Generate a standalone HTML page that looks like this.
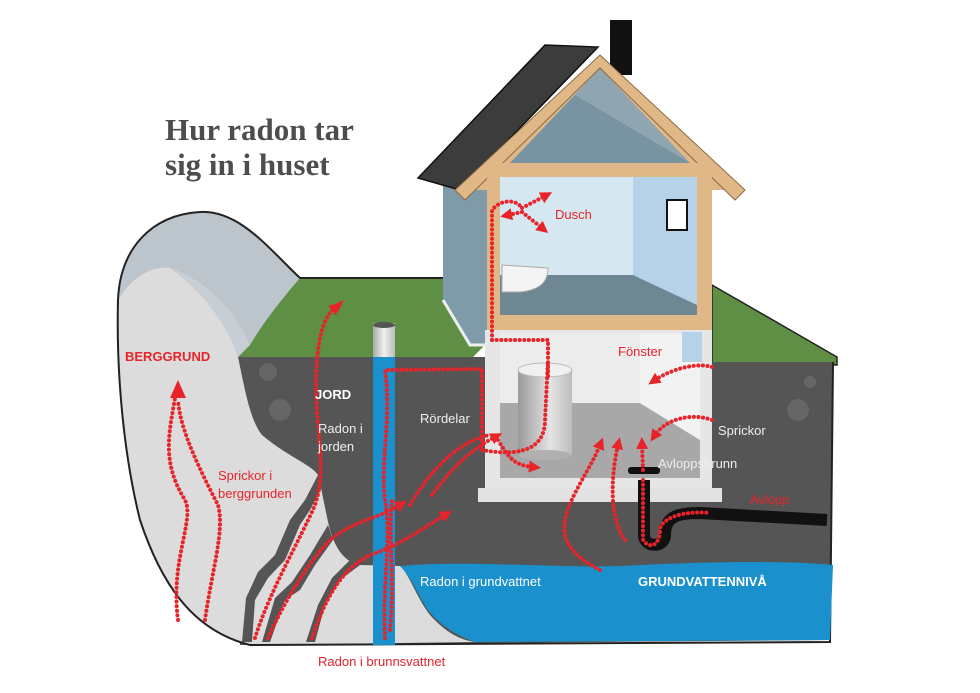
<!DOCTYPE html>
<html><head><meta charset="utf-8"><style>
html,body{margin:0;padding:0;background:#fff;width:980px;height:693px;overflow:hidden}
svg{display:block}
.t{font-family:"Liberation Sans",sans-serif;font-size:13px}
</style></head><body>
<svg width="980" height="693" viewBox="0 0 980 693" xmlns="http://www.w3.org/2000/svg">
<defs>
<marker id="ah" markerWidth="12" markerHeight="12" refX="4" refY="6" orient="auto" markerUnits="userSpaceOnUse"><path d="M0,0 L12,6 L0,12 z" fill="#e8232a"/></marker>
<linearGradient id="cyl" x1="0" x2="1"><stop offset="0" stop-color="#9a9a9a"/><stop offset="0.6" stop-color="#e4e4e4"/><stop offset="1" stop-color="#bdbdbd"/></linearGradient>
<linearGradient id="pipe" x1="0" x2="1"><stop offset="0" stop-color="#a9a9a9"/><stop offset=".5" stop-color="#f0f0f0"/><stop offset="1" stop-color="#bbb"/></linearGradient>
</defs>

<text x="165" y="140" font-family="Liberation Serif,serif" font-weight="bold" font-size="31" fill="#4d4d4d">Hur radon tar</text>
<text x="165" y="175" font-family="Liberation Serif,serif" font-weight="bold" font-size="31" fill="#4d4d4d">sig in i huset</text>

<path d="M230,278 L445,278 L485,345 L470,360 L235,360 Z" fill="#5f8f45"/>
<path d="M712,285 L837,357 L837,365 L712,365 Z" fill="#5f8f45" stroke="#222" stroke-width="1.5"/>
<path d="M235,357 L485,357 L485,500 L712,500 L712,362 L833,362 L830,640 L240,645 Z" fill="#555"/>
<circle cx="268" cy="372" r="9" fill="#666"/><circle cx="280" cy="410" r="11" fill="#666"/><circle cx="798" cy="410" r="11" fill="#666"/><circle cx="810" cy="382" r="6" fill="#666"/>

<path d="M118,300 C120,250 150,215 200,212 C240,210 270,250 300,278 C280,300 255,330 238,357 C245,390 250,420 262,435 C285,455 312,465 318,475 C322,490 325,510 330,530 C336,550 345,562 360,565 L400,566 C410,575 415,595 430,615 C445,632 460,640 475,642 L250,645 C190,630 160,580 140,520 C125,460 116,380 118,300 Z" fill="#dcdcdc"/>
<path d="M118,300 C120,250 150,215 200,212 C240,210 270,250 300,278 C285,295 265,320 250,345 C235,310 205,280 170,268 C150,265 130,280 118,300 Z" fill="#bcc5cb"/>
<path d="M170,268 C205,280 235,310 250,345 L238,357 C225,320 200,290 170,268 Z" fill="#c8cfd4"/>
<path d="M318,475 L322,487 L310,510 L300,525 L285,560 L268,578 L255,600 L252,642 L242,642 L246,598 L258,572 L275,555 L290,520 L305,500 Z" fill="#555"/>
<path d="M328,525 L333,540 L315,565 L300,590 L285,600 L270,642 L262,642 L275,598 L292,582 L310,555 Z" fill="#555"/>
<path d="M350,560 L360,565 L340,580 L325,605 L315,642 L306,642 L318,605 L332,578 Z" fill="#555"/>
<path d="M118,300 C120,250 150,215 200,212 C240,210 270,250 300,278 L445,278" fill="none" stroke="#222" stroke-width="2"/>
<path d="M118,300 C116,380 125,460 140,520 C160,580 190,630 250,645 L830,642 L833,362" fill="none" stroke="#222" stroke-width="2"/>

<path d="M400,566 C460,560 560,568 620,566 C700,562 780,560 833,565 L830,640 L475,642 C455,635 440,625 428,610 C418,595 410,575 400,566 Z" fill="#1a90cc"/>

<rect x="373" y="355" width="22" height="290" fill="#1a90cc"/>
<rect x="373" y="323" width="22" height="34" fill="url(#pipe)"/>
<ellipse cx="384" cy="325" rx="11" ry="3" fill="#555"/>

<path d="M443,185 L487,185 L487,345 L470,345 L443,300 Z" fill="#7f9aa8"/>
<path d="M443,300 L470,345 L485,345" fill="none" stroke="#eee" stroke-width="3"/>
<path d="M418,178 L545,45 L598,47 L460,190 Z" fill="#3c3c3c" stroke="#111" stroke-width="1.5"/>
<rect x="610" y="20" width="22" height="55" fill="#111"/>
<path d="M600,55 L735,190 L465,190 Z" fill="#e0b888"/>
<path d="M600,68 L690,163 L510,163 Z" fill="#8fa5b0"/>
<path d="M575,95 L690,163 L510,163 Z" fill="#7894a2"/>
<path d="M600,55 L745,190 L735,200 L600,68 L465,200 L455,190 Z" fill="#e0b888" stroke="#8a6a40" stroke-width="1"/>
<rect x="487" y="163" width="225" height="170" fill="#e0b888"/>
<rect x="500" y="177" width="197" height="138" fill="#d5e8f2"/>
<path d="M633,177 L697,177 L697,315 L633,275 Z" fill="#b5d2e8"/>
<path d="M500,275 L633,275 L697,305 L697,315 L500,315 Z" fill="#6f8793"/>
<rect x="667" y="200" width="20" height="30" fill="#fff" stroke="#111" stroke-width="2"/>
<path d="M502,265 L548,268 C548,282 540,290 520,292 L502,292 Z" fill="#f4f4f4" stroke="#aaa"/>
<rect x="485" y="330" width="227" height="160" fill="#e6e6e6"/>
<rect x="500" y="333" width="200" height="145" fill="#ececec"/>
<path d="M500,403 L640,403 L700,440 L700,478 L500,478 Z" fill="#a8a8a8"/>
<path d="M640,335 L700,335 L700,440 L640,403 Z" fill="#f2f2f2"/>
<rect x="478" y="488" width="244" height="14" fill="#e2e2e2"/>
<rect x="682" y="332" width="20" height="30" fill="#b5d2e8"/>
<rect x="518" y="370" width="54" height="85" fill="url(#cyl)"/>
<ellipse cx="545" cy="370" rx="27" ry="7" fill="#f0f0f0" stroke="#bbb"/>
<ellipse cx="545" cy="455" rx="27" ry="5" fill="#b0b0b0"/>

<path d="M644,480 L644,535 C644,548 665,548 665,535 C665,515 680,513 700,513 L827,520" fill="none" stroke="#111" stroke-width="12"/>
<rect x="628" y="467" width="32" height="7" rx="3" fill="#111"/>

<g fill="none" stroke="#e8232a" stroke-width="4" stroke-dasharray="0.1 4.5" stroke-linecap="round" marker-end="url(#ah)">
<path d="M178,620 C170,560 195,520 185,500 C160,460 170,430 176,392" marker-end="none"/>
<path d="M205,620 C212,570 225,530 218,505 C200,470 180,430 178,400" marker-end="none"/>
<path d="M255,638 C270,590 300,540 315,505 C330,460 310,420 318,350 C322,320 330,312 335,308"/>
<path d="M268,638 C285,600 310,560 330,540 C355,520 375,520 400,505"/>
<path d="M312,638 C325,600 340,570 370,555 C400,545 420,530 445,515"/>
<path d="M385,638 C382,580 392,540 385,500 C380,460 392,420 385,370 L482,369 L482,400 L482,450 C510,455 545,455 545,420 L548,360" marker-end="none"/>
<path d="M390,630 C395,580 388,540 392,500" marker-end="none"/>
<path d="M432,495 C450,470 470,450 495,437"/>
<path d="M410,505 C430,470 460,440 490,435" marker-end="none"/>
<path d="M498,440 C510,460 515,465 533,467"/>
<path d="M492,340 L492,320 L492,210 C500,200 515,198 522,208" marker-end="none"/>
<path d="M522,208 L545,196"/>
<path d="M522,212 L542,228"/>
<path d="M522,212 L508,215"/>
<path d="M492,340 L548,340 L548,380" marker-end="none"/>
<path d="M712,367 C695,362 670,370 655,380"/>
<path d="M712,420 C690,412 665,420 655,435"/>
<path d="M600,570 C580,560 560,545 565,520 C570,495 590,470 600,445"/>
<path d="M625,540 C610,520 610,480 618,445"/>
<path d="M643,480 L643,540 C650,550 660,545 660,530 C660,520 680,510 710,513" marker-end="none"/>
<path d="M643,470 L642,445"/>
</g>
<path d="M170,398 L178,380 L186,398 Z" fill="#e8232a"/>
<path d="M333,305 L344,300 L338,312 Z" fill="#e8232a"/>

<text x="125" y="361" class="t" font-weight="bold" font-size="14" fill="#e8232a">BERGGRUND</text>
<text x="315" y="399" class="t" font-weight="bold" font-size="17" fill="#fff">JORD</text>
<text x="318" y="433" class="t" fill="#eee">Radon i</text>
<text x="318" y="451" class="t" fill="#eee">jorden</text>
<text x="218" y="480" class="t" fill="#e8232a">Sprickor i</text>
<text x="218" y="498" class="t" fill="#e8232a">berggrunden</text>
<text x="420" y="423" class="t" fill="#eee">Rördelar</text>
<text x="555" y="219" class="t" fill="#e8232a">Dusch</text>
<text x="618" y="356" class="t" fill="#e8232a">Fönster</text>
<text x="718" y="435" class="t" fill="#eee">Sprickor</text>
<text x="658" y="468" class="t" fill="#eee">Avloppsbrunn</text>
<text x="750" y="504" class="t" fill="#e8232a">Avlopp</text>
<text x="420" y="586" class="t" fill="#fff">Radon i grundvattnet</text>
<text x="638" y="586" class="t" font-weight="bold" font-size="15" fill="#fff">GRUNDVATTENNIVÅ</text>
<text x="318" y="666" class="t" fill="#e8232a">Radon i brunnsvattnet</text>
</svg>
</body></html>
